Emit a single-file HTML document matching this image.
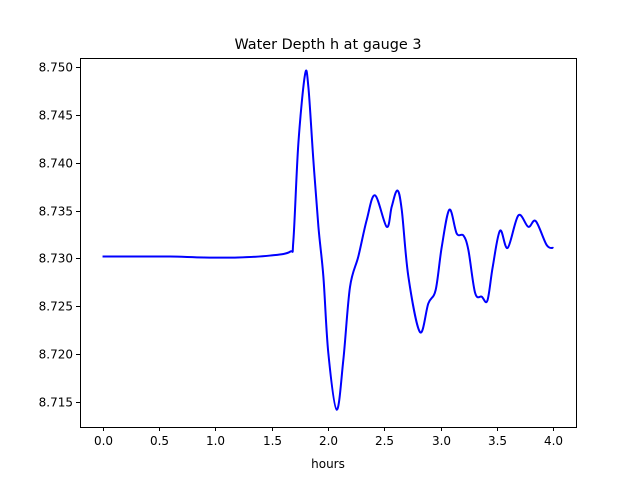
<!DOCTYPE html>
<html><head><meta charset="utf-8"><style>
body{margin:0;background:#fff;}
svg{display:block;font-family:"DejaVu Sans","Liberation Sans",sans-serif;}
</style></head><body>
<svg id="chart" width="640" height="480">
<rect width="640" height="480" fill="#fff"/>
<text x="328" y="49" font-size="14.4" text-anchor="middle">Water Depth h at gauge 3</text>
<g id="xt"></g>
<g id="yt"></g>
<path id="line" fill="none" stroke="#0000ff" stroke-width="2" stroke-linejoin="round"/>
<rect x="80.5" y="58.5" width="496" height="369" fill="none" stroke="#000" stroke-width="1"/>
<text x="328" y="468" font-size="12" text-anchor="middle">hours</text>
</svg>
<script>
const times=[0,0.3,0.6,0.9,1.2,1.486,1.663,1.693,1.737,1.796,1.826,1.870,1.915,1.959,2.003,2.077,2.136,2.195,2.269,2.343,2.417,2.521,2.565,2.615,2.654,2.713,2.816,2.890,2.955,3.009,3.077,3.142,3.201,3.245,3.305,3.364,3.414,3.461,3.526,3.594,3.689,3.777,3.843,3.940,4.0];
const depths=[8.7302,8.7302,8.7302,8.7301,8.7301,8.7303,8.7307,8.7319,8.7420,8.7492,8.7479,8.7403,8.7333,8.7281,8.7201,8.7142,8.7194,8.7270,8.7302,8.7340,8.7366,8.7333,8.7354,8.7371,8.7351,8.7281,8.7223,8.7253,8.7267,8.7312,8.7351,8.7326,8.7324,8.7309,8.7264,8.7260,8.7256,8.7291,8.7329,8.7311,8.7345,8.7333,8.7339,8.7314,8.7311];
const xTicks=[0,0.5,1,1.5,2,2.5,3,3.5,4];
const xTickLabels=["0.0","0.5","1.0","1.5","2.0","2.5","3.0","3.5","4.0"];
const yTicks=[8.715,8.72,8.725,8.73,8.735,8.74,8.745,8.75];
const yTickLabels=["8.715","8.720","8.725","8.730","8.735","8.740","8.745","8.750"];
const L=80,R=576,T=58,B=427,xmin=-0.2,xmax=4.2,ymin=8.71239,ymax=8.75094;
const sx=v=>L+(v-xmin)/(xmax-xmin)*(R-L);
const sy=v=>B-(v-ymin)/(ymax-ymin)*(B-T);
const NS="http://www.w3.org/2000/svg";
const xt=document.getElementById('xt'),yt=document.getElementById('yt');
xTicks.forEach((v,i)=>{
 const x=Math.round(sx(v))+0.5;
 const l=document.createElementNS(NS,'line');
 l.setAttribute('x1',x);l.setAttribute('x2',x);l.setAttribute('y1',B);l.setAttribute('y2',B+4);l.setAttribute('stroke','#000');
 
 
 xt.appendChild(l);
 const t=document.createElementNS(NS,'text');
 t.setAttribute('x',x);t.setAttribute('y',B+18);t.setAttribute('font-size','12');t.setAttribute('text-anchor','middle');
 t.textContent=xTickLabels[i];
 
 
 xt.appendChild(t);
});
yTicks.forEach((v,i)=>{
 const y=Math.round(sy(v))+0.5;
 const l=document.createElementNS(NS,'line');
 l.setAttribute('x1',L-4);l.setAttribute('x2',L);l.setAttribute('y1',y);l.setAttribute('y2',y);l.setAttribute('stroke','#000');
 
 
 yt.appendChild(l);
 const t=document.createElementNS(NS,'text');
 t.setAttribute('x',L-7);t.setAttribute('y',y+4);t.setAttribute('font-size','12');t.setAttribute('text-anchor','end');
 t.textContent=yTickLabels[i];
 
 
 yt.appendChild(t);
});
const P=times.map((t,i)=>[sx(t),sy(depths[i])]);
let d='M'+P[0][0]+','+P[0][1];
for(let i=0;i<P.length-1;i++){
 const p0=P[Math.max(0,i-1)],p1=P[i],p2=P[i+1],p3=P[Math.min(P.length-1,i+2)];
 const c1=[p1[0]+(p2[0]-p0[0])/6,p1[1]+(p2[1]-p0[1])/6];
 const c2=[p2[0]-(p3[0]-p1[0])/6,p2[1]-(p3[1]-p1[1])/6];
 d+=' C'+c1[0]+','+c1[1]+' '+c2[0]+','+c2[1]+' '+p2[0]+','+p2[1];
}
document.getElementById('line').setAttribute('d',d);
</script>
</body></html>
